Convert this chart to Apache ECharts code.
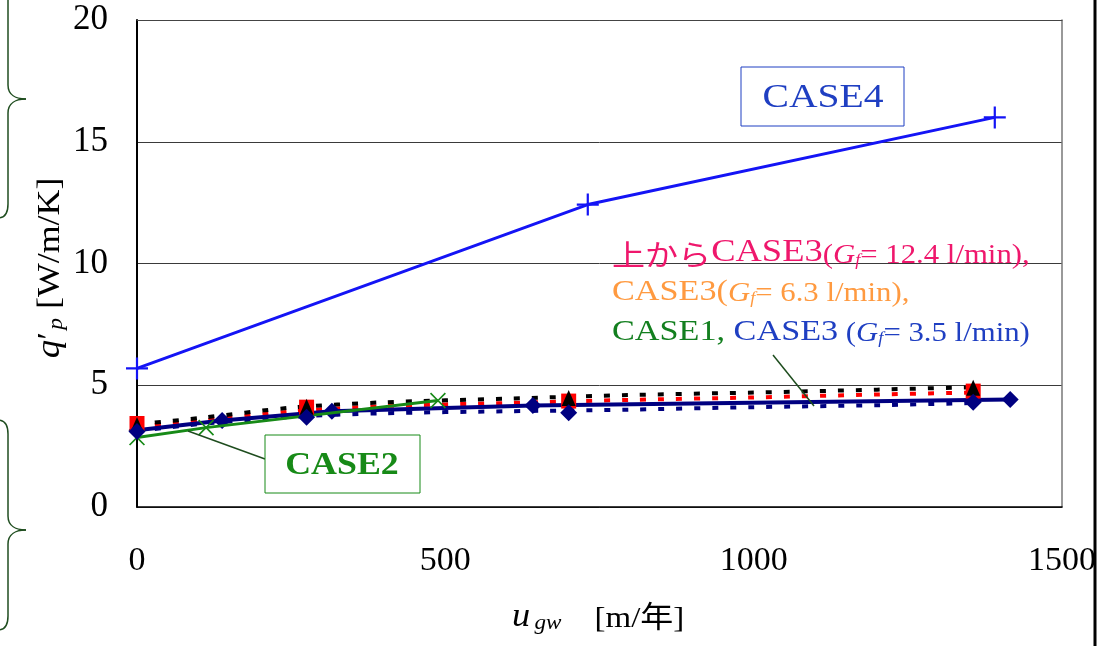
<!DOCTYPE html>
<html>
<head>
<meta charset="utf-8">
<script src="https://cdn.jsdelivr.net/npm/echarts@6/dist/echarts.min.js"></script>
<style>
  html, body { margin: 0; padding: 0; background: #fff; }
  #main { width: 1112px; height: 646px; }
</style>
</head>
<body>
<div id="main"></div>
<script>
// axis ranges
const xRange = [0, 1500, 500];
const yRange = [0, 20, 5];

// measured series  [u_gw (m/年), q'p (W/m/K)]
const case4 = [[0, 5.69], [731, 12.42], [1391, 16.0]];
const case2 = [[0, 2.85], [112, 3.26], [488, 4.37]];
const case1 = [[0, 3.15], [138, 3.55], [316, 3.93], [642, 4.17], [1416, 4.41]];
const case3G124 = [[0, 3.37], [275, 4.12], [700, 4.48], [1356, 4.9]];
const case3G63 = [[0, 3.43], [275, 4.1], [700, 4.35], [1356, 4.76]];
const case3G35 = [[0, 3.1], [275, 3.69], [700, 3.87], [1356, 4.3]];

// dotted approximation lines of CASE3
const trendG124 = [[0, 3.4], [100, 3.65], [250, 4.08], [400, 4.3], [600, 4.45], [800, 4.6], [1000, 4.7], [1200, 4.82], [1356, 4.92]];
const trendG63 = [[0, 3.3], [100, 3.53], [250, 3.92], [400, 4.14], [600, 4.27], [800, 4.4], [1000, 4.5], [1200, 4.62], [1356, 4.7]];
const trendG35 = [[0, 3.12], [100, 3.4], [250, 3.7], [400, 3.85], [600, 3.93], [800, 4.0], [1000, 4.1], [1200, 4.18], [1356, 4.27]];

const SERIF = '"Liberation Serif", "Times New Roman", "Noto Sans CJK JP", serif';
const CJK = '"Noto Sans CJK JP", sans-serif';
const PLUS = 'path://M9,0H11V9H20V11H11V20H9V11H0V9H9Z';
const CROSS = 'path://M9.2,0H10.8V9.2H20V10.8H10.8V20H9.2V10.8H0V9.2H9.2Z';

const chart = echarts.init(document.getElementById('main'));

function dotted(name, data, color) {
  return {
    name, type: 'line', data, symbol: 'none', smooth: 0.3, silent: true, z: 2,
    lineStyle: { color, width: 4, type: [6, 12], cap: 'butt' }
  };
}
function marks(name, data, color, symbol, size) {
  return {
    name, type: 'scatter', data, symbol, symbolSize: size, z: 5,
    itemStyle: { color, opacity: 1 }
  };
}

// curly brace on the left margin
function brace(top, mid, bottom) {
  const st = { stroke: '#1f4d1f', lineWidth: 1.5, fill: null };
  const b = (x1, y1, cx1, cy1, cx2, cy2, x2, y2) => ({
    type: 'bezierCurve', shape: { x1, y1, cpx1: cx1, cpy1: cy1, cpx2: cx2, cpy2: cy2, x2, y2 }, style: st, z: 50
  });
  const l = (y1, y2) => ({ type: 'line', shape: { x1: 8, y1, x2: 8, y2 }, style: st, z: 50 });
  return [
    b(-2, top, 5, top, 8, top + 5, 8, top + 14),
    l(top + 14, mid - 14),
    b(8, mid - 14, 8, mid - 4, 16, mid, 26, mid),
    b(26, mid, 16, mid, 8, mid + 4, 8, mid + 14),
    l(mid + 14, bottom - 14),
    b(8, bottom - 14, 8, bottom - 5, 5, bottom, -2, bottom)
  ];
}

const tok = (fontSize, extra) => Object.assign({ fontSize, lineHeight: fontSize, fontFamily: SERIF, verticalAlign: 'bottom' }, extra || {});
const sub = (fontSize, extra) => Object.assign({ fontSize, lineHeight: 8, fontFamily: SERIF, fontStyle: 'italic', verticalAlign: 'bottom' }, extra || {});

const PINK = '#ef176c', ORANGE = '#ff9a40', LGREEN = '#137f1f', LBLUE = '#1f3fc2';

const option = {
  animation: false,
  backgroundColor: '#fff',
  grid: { left: 137, top: 20, right: 50, bottom: 139, outerBoundsMode: 'none' },
  xAxis: [{
    type: 'value', min: xRange[0], max: xRange[1], interval: xRange[2],
    axisLine: { show: true, lineStyle: { color: '#000', width: 1.5 } },
    axisTick: { show: false },
    splitLine: { show: false },
    axisLabel: { fontSize: 34, fontFamily: SERIF, color: '#000', margin: 37, formatter: v => String(v) }
  }, {
    type: 'value', position: 'top', min: xRange[0], max: xRange[1],
    axisLine: { show: true, onZero: false, lineStyle: { color: '#444', width: 1 } },
    axisTick: { show: false }, axisLabel: { show: false }, splitLine: { show: false }
  }],
  yAxis: [{
    type: 'value', min: yRange[0], max: yRange[1], interval: yRange[2],
    axisLine: { show: true, lineStyle: { color: '#000', width: 2 } },
    axisTick: { show: false },
    splitLine: { show: true, lineStyle: { color: '#3a3a3a', width: 1 } },
    axisLabel: { fontSize: 35, fontFamily: SERIF, color: '#000', margin: 29 }
  }, {
    type: 'value', position: 'right', min: yRange[0], max: yRange[1],
    axisLine: { show: true, onZero: false, lineStyle: { color: '#777', width: 1.5 } },
    axisTick: { show: false }, axisLabel: { show: false }, splitLine: { show: false }
  }],
  series: [
    dotted('G3.5 trend', trendG35, '#000080'),
    dotted('G6.3 trend', trendG63, '#ff0000'),
    dotted('G12.4 trend', trendG124, '#000000'),
    {
      name: 'CASE1', type: 'line', data: case1, z: 3,
      symbol: 'diamond', symbolSize: [17, 17],
      lineStyle: { color: '#000080', width: 4 },
      itemStyle: { color: '#000080' }
    },
    {
      name: 'CASE2', type: 'line', data: case2, z: 4,
      symbol: CROSS, symbolSize: 21, symbolRotate: 45,
      lineStyle: { color: '#178a17', width: 3 },
      itemStyle: { color: '#178a17' }
    },
    {
      name: 'CASE4', type: 'line', data: case4, z: 4,
      symbol: PLUS, symbolSize: 22,
      lineStyle: { color: '#1414f5', width: 3 },
      itemStyle: { color: '#1414f5' }
    },
    marks('CASE3 G6.3', case3G63, '#ff0000', 'rect', [15, 15]),
    marks('CASE3 G12.4', case3G124, '#000000', 'triangle', [14, 16]),
    marks('CASE3 G3.5', case3G35, '#000080', 'diamond', [17, 17])
  ],
  graphic: [
    ...brace(-30, 99, 218),
    ...brace(420, 530, 630),
    // y axis title
    {
      type: 'text', x: 50, y: 268, rotation: Math.PI / 2, scaleX: 1.12, z: 50,
      style: {
        text: '{q|q}{pr|′}{p|p}{n| [W/m/K]}', fill: '#000', align: 'center', verticalAlign: 'middle',
        rich: {
          q: tok(33, { fontStyle: 'italic' }), pr: tok(32), p: sub(21, { padding: [0, 0, 0, 2] }), n: tok(32)
        }
      }
    },
    // x axis title
    {
      type: 'text', x: 512, y: 634, scaleX: 1.1, z: 50,
      style: {
        text: '{u|u}{g|gw}{n|[m/年]}', fill: '#000', align: 'left', verticalAlign: 'bottom',
        rich: {
          u: tok(33, { fontStyle: 'italic' }), g: sub(21, { padding: [0, 0, 0, 4] }),
          n: tok(30, { padding: [0, 0, 0, 30] })
        }
      }
    },
    // CASE4 box
    {
      type: 'rect', shape: { x: 741, y: 67, width: 163, height: 59 }, z: 40,
      style: { fill: '#fff', stroke: LBLUE, lineWidth: 1 }
    },
    {
      type: 'text', x: 823, y: 98, scaleX: 1.2, z: 41,
      style: { text: 'CASE4', fill: LBLUE, font: '33px ' + SERIF, align: 'center', verticalAlign: 'middle' }
    },
    // CASE2 box + leader
    {
      type: 'line', shape: { x1: 188, y1: 431, x2: 265, y2: 459 }, z: 40,
      style: { stroke: '#1e4d1e', lineWidth: 1.5 }
    },
    {
      type: 'rect', shape: { x: 265, y: 435, width: 155, height: 58 }, z: 40,
      style: { fill: '#fff', stroke: '#178a17', lineWidth: 1 }
    },
    {
      type: 'text', x: 342, y: 466, scaleX: 1.12, z: 41,
      style: { text: 'CASE2', fill: '#178a17', font: 'bold 32px ' + SERIF, align: 'center', verticalAlign: 'middle' }
    },
    // CASE3 / CASE1 labels
    {
      type: 'line', shape: { x1: 773, y1: 355, x2: 814, y2: 406 }, z: 40,
      style: { stroke: '#1e4d1e', lineWidth: 1.5 }
    },
    {
      type: 'text', x: 612, y: 269, scaleX: 1.14, z: 41,
      style: {
        text: '{cj|上から}{a|CASE3}{p|(}{i|G}{s|f}{p|= 12.4 l/min),}', fill: PINK, align: 'left', verticalAlign: 'bottom',
        rich: {
          cj: tok(29, { fontFamily: CJK }), a: tok(32), p: tok(27), i: tok(27, { fontStyle: 'italic' }), s: sub(16)
        }
      }
    },
    {
      type: 'text', x: 612, y: 307, scaleX: 1.14, z: 41,
      style: {
        text: '{a|CASE3(}{i|G}{s|f}{p|= 6.3 l/min),}', fill: ORANGE, align: 'left', verticalAlign: 'bottom',
        rich: { a: tok(30), p: tok(27), i: tok(27, { fontStyle: 'italic' }), s: sub(16) }
      }
    },
    {
      type: 'text', x: 612, y: 347, scaleX: 1.14, z: 41,
      style: {
        text: '{g|CASE1, }{a|CASE3}{p| (}{i|G}{s|f}{p|= 3.5 l/min)}', fill: LBLUE, align: 'left', verticalAlign: 'bottom',
        rich: {
          g: tok(30, { fill: LGREEN }), a: tok(30, { fill: LBLUE }), p: tok(27, { fill: LBLUE }),
          i: tok(27, { fill: LBLUE, fontStyle: 'italic' }), s: sub(16, { fill: LBLUE })
        }
      }
    },
    // page edge line on the right
    {
      type: 'line', shape: { x1: 1095, y1: 0, x2: 1095, y2: 646 }, z: 100,
      style: { stroke: '#000', lineWidth: 3 }
    }
  ]
};

chart.setOption(option);
</script>
</body>
</html>
